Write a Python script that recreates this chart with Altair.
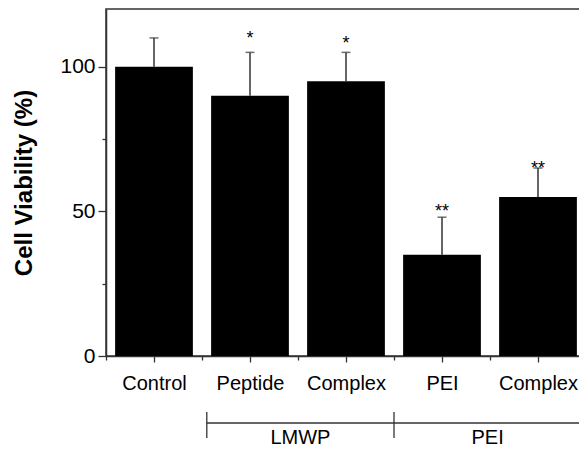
import altair as alt
import pandas as pd

# ---- data ----
categories = ["Control", "Peptide", "Complex", "PEI", "Complex"]
viability = [100, 90, 95, 35, 55]
error_top = [110, 105, 105, 48, 65]
stars = ["", "*", "*", "**", "**"]
star_y = [0, 108, 106, 48, 63]
group_names = ["LMWP", "PEI"]
group_start = [1.55, 3.5]
group_end = [3.5, 5.45]

FONT = "Liberation Sans"
AX = "#333333"
HALF = 0.405

bars = pd.DataFrame({
    "pos": list(range(1, len(categories) + 1)),
    "cat": categories,
    "val": viability,
    "err": error_top,
    "star": stars,
    "sy": star_y,
})
bars["lo"] = bars["pos"] - HALF
bars["hi"] = bars["pos"] + HALF

groups = pd.DataFrame({"name": group_names, "x0": group_start, "x1": group_end})
groups["mid"] = (groups["x0"] + groups["x1"]) / 2
edges = pd.DataFrame({"e": sorted(set(group_start) | set(group_end))})

xs = alt.Scale(domain=[0.5, len(categories) + 0.5], nice=False, zero=False)
ys = alt.Scale(domain=[0, 120], nice=False)

label_expr = "[" + ",".join("'%s'" % c for c in categories) + "][datum.value - 1]"

base = alt.Chart(bars)

bar_layer = base.mark_bar(color="black").encode(
    x=alt.X("lo:Q", scale=xs, axis=alt.Axis(
        orient="bottom", values=list(range(1, len(categories) + 1)),
        labelExpr=label_expr, title=None, tickSize=6, tickWidth=1.3,
        tickColor=AX, domainColor=AX, domainWidth=1.5, grid=False,
        labelFontSize=20, labelFont=FONT, labelColor="black", labelPadding=11)),
    x2="hi:Q",
    y=alt.Y("val:Q", scale=ys, axis=alt.Axis(
        orient="left", values=[0, 50, 100], tickSize=8, tickWidth=1.3,
        tickColor=AX, domainColor=AX, domainWidth=1.5, grid=False,
        labelFontSize=21, labelFont=FONT, labelColor="black", labelPadding=3,
        title="Cell Viability (%)", titleFont=FONT, titleFontSize=24,
        titleFontWeight="bold", titleColor="black", titlePadding=23)),
    y2=alt.datum(0),
)

minor_layer = base.mark_point(opacity=0).encode(
    x=alt.X("pos:Q", scale=xs, axis=alt.Axis(
        orient="bottom", values=[i + 0.5 for i in range(len(categories) + 1)],
        labels=False, domain=False, grid=False, title=None,
        tickSize=4, tickWidth=1.3, tickColor=AX)),
    y=alt.Y("val:Q", scale=ys, axis=alt.Axis(
        orient="left", values=[25, 75], labels=False, domain=False,
        grid=False, title=None, tickSize=4, tickWidth=1.3, tickColor=AX)),
)

err_rule = base.mark_rule(color=AX, strokeWidth=1.5).encode(
    x=alt.X("pos:Q", scale=xs, axis=None),
    y=alt.Y("val:Q", scale=ys, axis=None),
    y2="err:Q",
)

err_cap = base.mark_tick(color=AX, orient="horizontal", size=9, thickness=1.5).encode(
    x=alt.X("pos:Q", scale=xs, axis=None),
    y=alt.Y("err:Q", scale=ys, axis=None),
)

star_layer = base.transform_filter("datum.star != ''").mark_text(
    font=FONT, fontSize=18, color="black", baseline="alphabetic", align="center"
).encode(
    x=alt.X("pos:Q", scale=xs, axis=None),
    y=alt.Y("sy:Q", scale=ys, axis=None),
    text="star:N",
)

bracket_h = alt.Chart(groups).mark_rule(color=AX, strokeWidth=1.3).encode(
    x=alt.X("x0:Q", scale=xs, axis=None),
    x2="x1:Q",
    y=alt.value(414),
)

bracket_v = alt.Chart(edges).mark_rule(color=AX, strokeWidth=1.3).encode(
    x=alt.X("e:Q", scale=xs, axis=None),
    y=alt.value(403),
    y2=alt.value(429),
)

group_text = alt.Chart(groups).mark_text(
    font=FONT, fontSize=20, color="black", baseline="middle", align="center"
).encode(
    x=alt.X("mid:Q", scale=xs, axis=None),
    y=alt.value(429),
    text="name:N",
)

chart = alt.layer(
    bar_layer, minor_layer, err_rule, err_cap, star_layer,
    bracket_h, bracket_v, group_text,
).resolve_axis(x="independent", y="independent").properties(
    width=480, height=347,
    padding={"left": 98, "top": 1, "right": -7, "bottom": 94},
    autosize=alt.AutoSizeParams(type="none"),
    background="white",
).configure_view(stroke=AX, strokeWidth=1.5)

chart.save("out.html", embed_options={"renderer": "svg", "actions": False})
